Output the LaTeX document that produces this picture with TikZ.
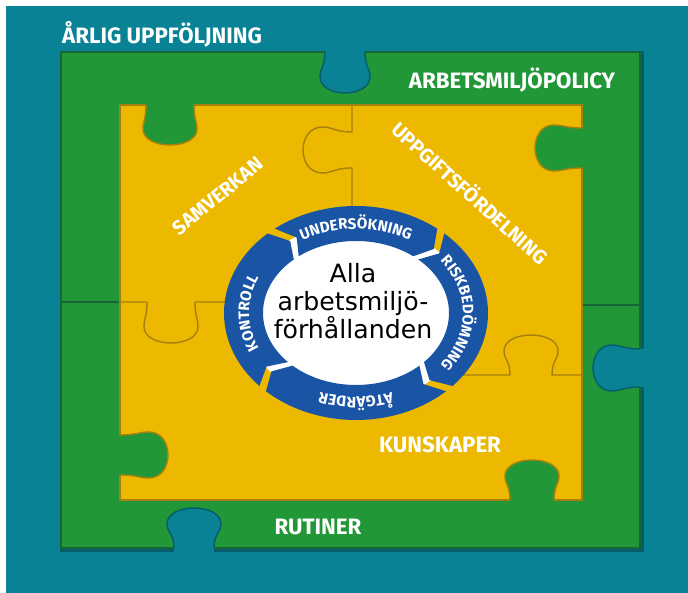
\documentclass[tikz,border=0pt]{standalone}
\usepackage{fontspec}
\setmainfont{Fira Sans}
\newfontfamily\centerfont{DejaVu Sans}
\usetikzlibrary{decorations.text}
\definecolor{cteal}{RGB}{8,130,148}
\definecolor{ctealdark}{RGB}{6,92,106}
\definecolor{cgreen}{RGB}{34,151,56}
\definecolor{cgreendark}{RGB}{24,102,56}
\definecolor{cyellow}{RGB}{236,185,0}
\definecolor{cyellowdark}{RGB}{166,128,14}
\definecolor{cblue}{RGB}{26,84,164}

% puzzle tab: x, y, angle, neck, head, depth, fill, edge
\newcommand{\tabfill}[8]{%
  \begin{scope}[shift={(#1,#2)}, rotate=#3]
    \fill[#7] (-#4,-6) -- (-#4,0) .. controls (-#4,0.35*#6) and (-#5,0.4*#6) .. (-#5,0.6*#6)
      .. controls (-#5,1.133*#6) and (#5,1.133*#6) .. (#5,0.6*#6)
      .. controls (#5,0.4*#6) and (#4,0.35*#6) .. (#4,0) -- (#4,-6) -- cycle;
    \draw[#8, line width=1.2pt] (-#4,0) .. controls (-#4,0.35*#6) and (-#5,0.4*#6) .. (-#5,0.6*#6)
      .. controls (-#5,1.133*#6) and (#5,1.133*#6) .. (#5,0.6*#6)
      .. controls (#5,0.4*#6) and (#4,0.35*#6) .. (#4,0);
  \end{scope}}
% seam between two yellow pieces: x, y, angle, neck, head, depth, before, after
\newcommand{\tabseam}[8]{%
  \begin{scope}[shift={(#1,#2)}, rotate=#3]
    \draw[seam] (-#7,0) -- (-#4,0) .. controls (-#4,0.35*#6) and (-#5,0.4*#6) .. (-#5,0.6*#6)
      .. controls (-#5,1.133*#6) and (#5,1.133*#6) .. (#5,0.6*#6)
      .. controls (#5,0.4*#6) and (#4,0.35*#6) .. (#4,0) -- (#8,0);
  \end{scope}}
% one arrow of the ring, from angle #1 clockwise to #2
\newcommand{\ringpart}[2]{%
  \fill[cblue] plot[domain=#1:#2, samples=40] ({356+132*cos(\x)},{280+107*sin(\x)})
    -- ({356+112*cos(#2-6)},{280+89*sin(#2-6)})
    -- plot[domain=#2:#1, samples=40] ({356+93*cos(\x)},{280+72*sin(\x)})
    -- ({356+112*cos(#1-6)},{280+89*sin(#1-6)}) -- cycle;}
\newcommand{\ringfont}{\color{white}\bfseries\fontsize{13}{13}\selectfont}

\begin{document}
\begin{tikzpicture}[x=0.03cm, y=0.03cm]
  \tikzstyle{rubrik}=[text=white, font=\bfseries\fontsize{19}{20}\selectfont, inner sep=0pt]
  \tikzstyle{rubrikdiag}=[rubrik, font=\bfseries\fontsize{17}{18}\selectfont]
  \tikzstyle{seam}=[cyellowdark, line width=1.2pt]
  \tikzstyle{ringtext}=[decorate]

  \useasboundingbox (0,0) rectangle (688,593);
  \fill[white] (0,0) rectangle (688,593);
  \fill[cteal] (6,0) rectangle (688,587);

  % green frame
  \fill[ctealdark] (60,41) rectangle (644,542);
  \filldraw[fill=cgreen, draw=cgreendark, line width=1.2pt] (61,45) rectangle (640,541);
  \tabfill{345}{541}{180}{20}{25}{41}{cteal}{ctealdark}
  \tabfill{640}{225}{90}{19}{23}{47}{cteal}{ctealdark}
  \tabfill{194}{45}{0}{20}{27}{40}{cteal}{ctealdark}
  \draw[cgreendark, line width=1.2pt] (61,291) -- (120,291);
  \draw[cgreendark, line width=1.2pt] (582,288) -- (640,288);

  % yellow pieces
  \filldraw[fill=cyellow, draw=cyellowdark, line width=1.2pt] (120,93) rectangle (582,488);
  \tabfill{170}{488}{180}{24}{27}{40}{cgreen}{cyellowdark}
  \tabfill{582}{445}{90}{20}{23}{47}{cgreen}{cyellowdark}
  \tabfill{532}{93}{0}{22}{27}{40}{cgreen}{cyellowdark}
  \tabfill{120}{138}{-90}{20}{23}{48}{cgreen}{cyellowdark}
  \tabseam{352}{443}{90}{18}{23}{49}{70}{45}
  \tabseam{171}{291}{180}{24}{27}{41}{70}{51}
  \tabseam{531}{218}{0}{21}{27}{40}{75}{51}

  % ring
  \fill[white] (356,280) ellipse [x radius=113, y radius=90];
  \ringpart{128}{52}
  \ringpart{48}{-43}
  \ringpart{-47}{-133}
  \ringpart{-137}{-228}
  \path[ringtext, decoration={text along path, text align=center, text={|\ringfont|UNDERSÖKNING}}]
    plot[domain=150:30, samples=60] ({356+107*cos(\x)},{280+84*sin(\x)});
  \path[ringtext, decoration={text along path, text align=center, text={|\ringfont|RISKBEDÖMNING}}]
    plot[domain=60:-60, samples=60] ({356+107*cos(\x)},{280+84*sin(\x)});
  \path[ringtext, decoration={text along path, text align=center, text={|\ringfont|ÅTGÄRDER}}]
    plot[domain=-30:-150, samples=60] ({356+107*cos(\x)},{280+84*sin(\x)});
  \path[ringtext, decoration={text along path, text align=center, text={|\ringfont|KONTROLL}}]
    plot[domain=240:120, samples=60] ({356+107*cos(\x)},{280+84*sin(\x)});

  \node[align=center, font=\centerfont\fontsize{21.5}{24}\selectfont] (alla) at (353,292)
    {Alla\\arbetsmiljö-\\förhållanden};

  % labels
  \node[rubrik, anchor=base west] (arlig) at (62,549) {ÅRLIG UPPFÖLJNING};
  \node[rubrik, anchor=base] (policy) at (512,504) {ARBETSMILJÖPOLICY};
  \node[rubrik, anchor=base] (rutiner) at (318,58) {RUTINER};
  \node[rubrik, anchor=base] (kunskaper) at (440,140) {KUNSKAPER};
  \node[rubrikdiag, rotate=39] (samverkan) at (218,397) {SAMVERKAN};
  \node[rubrikdiag, rotate=-42] (uppgift) at (471,401) {UPPGIFTSFÖRDELNING};

\end{tikzpicture}
\end{document}
